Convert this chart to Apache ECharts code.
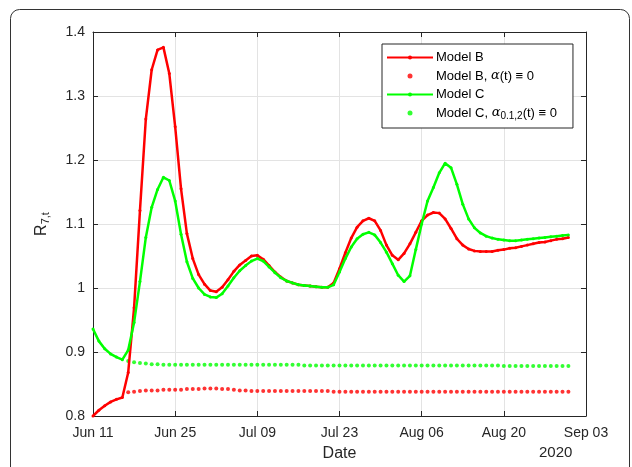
<!DOCTYPE html>
<html>
<head>
<meta charset="utf-8">
<script src="https://cdn.jsdelivr.net/npm/echarts@6/dist/echarts.min.js"></script>
<style>
html,body{margin:0;padding:0;background:#fff;}
#chart{width:632px;height:467px;}
</style>
</head>
<body>
<div id="chart"></div>
<script>
// Days counted from Jun 11, 2020 (index 0 = Jun 11)
const xTickLabels = ['Jun 11','Jun 25','Jul 09','Jul 23','Aug 06','Aug 20','Sep 03'];
const seriesNames = ['Model B', 'Model B, α(t) ≡ 0', 'Model C', 'Model C, α0.1,2(t) ≡ 0'];

const modelB = [0.800,0.809,0.816,0.822,0.826,0.829,0.868,0.969,1.121,1.264,
  1.341,1.372,1.376,1.335,1.252,1.155,1.085,1.046,1.021,1.006,
  0.996,0.994,1.001,1.013,1.026,1.036,1.043,1.050,1.051,1.045,
  1.035,1.025,1.017,1.011,1.008,1.005,1.004,1.003,1.002,1.001,
  1.001,1.008,1.030,1.055,1.078,1.095,1.105,1.109,1.105,1.090,
  1.067,1.051,1.044,1.054,1.069,1.087,1.105,1.114,1.118,1.117,
  1.108,1.093,1.077,1.067,1.061,1.058,1.057,1.057,1.057,1.059,
  1.060,1.062,1.063,1.065,1.067,1.069,1.071,1.072,1.074,1.076,
  1.077,1.079];

const modelC = [0.936,0.917,0.905,0.897,0.892,0.888,0.903,0.946,1.010,1.079,
  1.126,1.154,1.173,1.168,1.136,1.084,1.041,1.015,1.000,0.990,
  0.986,0.985,0.991,1.003,1.016,1.027,1.035,1.042,1.046,1.042,
  1.033,1.024,1.016,1.011,1.008,1.005,1.004,1.003,1.002,1.001,
  1.001,1.005,1.025,1.046,1.064,1.077,1.084,1.087,1.083,1.071,
  1.056,1.038,1.020,1.010,1.019,1.060,1.100,1.136,1.157,1.180,
  1.195,1.188,1.162,1.131,1.108,1.094,1.086,1.081,1.078,1.076,
  1.075,1.074,1.074,1.075,1.076,1.077,1.078,1.079,1.080,1.081,
  1.082,1.083];

// alpha == 0 variants start on day 6
const modelBAlpha0 = [null,null,null,null,null,null,0.837,0.838,0.839,0.840,
  0.840,0.840,0.841,0.841,0.841,0.841,0.842,0.842,0.842,0.843,
  0.843,0.843,0.842,0.842,0.841,0.840,0.840,0.839,0.839,0.839,
  0.839,0.839,0.839,0.839,0.839,0.839,0.839,0.839,0.839,0.839,
  0.839,0.838,0.838,0.838,0.838,0.838,0.838,0.838,0.838,0.838,
  0.838,0.838,0.838,0.838,0.838,0.838,0.838,0.838,0.838,0.838,
  0.838,0.838,0.838,0.838,0.838,0.838,0.838,0.838,0.838,0.838,
  0.838,0.838,0.838,0.838,0.838,0.838,0.838,0.838,0.838,0.838,
  0.838,0.838];

const modelCAlpha0 = [null,null,null,null,null,null,0.886,0.884,0.883,0.882,
  0.881,0.881,0.880,0.880,0.880,0.880,0.880,0.880,0.880,0.880,
  0.880,0.880,0.880,0.880,0.880,0.880,0.880,0.880,0.880,0.880,
  0.880,0.880,0.880,0.880,0.880,0.880,0.879,0.879,0.879,0.879,
  0.879,0.879,0.879,0.879,0.879,0.879,0.879,0.879,0.879,0.879,
  0.879,0.879,0.879,0.879,0.879,0.879,0.879,0.879,0.879,0.879,
  0.879,0.879,0.879,0.879,0.879,0.879,0.879,0.879,0.879,0.879,
  0.878,0.878,0.878,0.878,0.878,0.878,0.878,0.878,0.878,0.878,
  0.878,0.878];

const toPairs = arr => arr.map((v, i) => [i, v]).filter(p => p[1] !== null);

const FONT = '"Liberation Sans", Arial, Helvetica, sans-serif';
const AX = '#262626';
const GRID = '#e3e3e3';

const chart = echarts.init(document.getElementById('chart'), null, {renderer: 'canvas'});

const legendRich = {
  n: {fontSize: 13, fontFamily: FONT, color: '#000', lineHeight: 16},
  a: {fontSize: 13, fontFamily: '"DejaVu Serif", serif', fontStyle: 'italic', color: '#000', lineHeight: 16},
  s: {fontSize: 10, fontFamily: FONT, color: '#000', lineHeight: 9, verticalAlign: 'bottom'}
};

const option = {
  animation: false,
  backgroundColor: '#fff',
  graphic: [
    {type: 'rect', shape: {x: 10.5, y: 9.5, width: 619, height: 480, r: 9},
     style: {fill: 'none', stroke: '#333', lineWidth: 1}, silent: true, z: -1},
    {type: 'text', left: 539, top: 445.5,
     style: {text: '2020', fontSize: 15, fontFamily: FONT, fill: '#262626'}}
  ],
  grid: {left: 93, top: 32, right: 46, bottom: 46, containLabel: false},
  legend: {
    orient: 'vertical',
    left: 382, top: 44,
    padding: [7, 16, 7, 4],
    itemGap: 5.5,
    itemWidth: 46,
    itemHeight: 5,
    backgroundColor: '#fff',
    borderColor: AX,
    borderWidth: 1,
    borderRadius: 0,
    data: seriesNames,
    textStyle: {fontSize: 13, fontFamily: FONT, color: '#000', rich: legendRich, padding: [0, 0, 0, -2]},
    formatter: function (name) {
      if (name === seriesNames[1]) return '{n|Model B, }{a|α}{n|(t) ≡ 0}';
      if (name === seriesNames[3]) return '{n|Model C, }{a|α}{s|0.1,2}{n|(t) ≡ 0}';
      return '{n|' + name + '}';
    }
  },
  xAxis: [{
    type: 'value', min: 0, max: 84, interval: 14,
    name: 'Date', nameLocation: 'middle', nameGap: 30,
    nameTextStyle: {fontSize: 16, fontFamily: FONT, color: AX, verticalAlign: 'top', align: 'center'},
    axisLine: {show: true, onZero: false, lineStyle: {color: AX, width: 1}},
    axisTick: {show: true, inside: true, length: 5, lineStyle: {color: AX}},
    axisLabel: {fontSize: 14, fontFamily: FONT, color: AX, margin: 10,
      formatter: v => xTickLabels[Math.round(v / 14)]},
    splitLine: {show: true, lineStyle: {color: GRID, width: 1}}
  }, {
    type: 'value', min: 0, max: 84, interval: 14, position: 'top',
    axisLine: {show: true, onZero: false, lineStyle: {color: AX, width: 1}},
    axisTick: {show: true, inside: true, length: 5, lineStyle: {color: AX}},
    axisLabel: {show: false},
    splitLine: {show: false}
  }],
  yAxis: [{
    type: 'value', min: 0.8, max: 1.4, interval: 0.1,
    name: '{r|R}{s|7,t}', nameLocation: 'middle', nameGap: 42, nameRotate: 90,
    nameTextStyle: {
      rich: {
        r: {fontSize: 16, fontFamily: FONT, color: AX, lineHeight: 18},
        s: {fontSize: 11, fontFamily: FONT, color: AX, lineHeight: 10, verticalAlign: 'bottom'}
      }
    },
    axisLine: {show: true, onZero: false, lineStyle: {color: AX, width: 1}},
    axisTick: {show: true, inside: true, length: 5, lineStyle: {color: AX}},
    axisLabel: {fontSize: 14, fontFamily: FONT, color: AX, margin: 8},
    splitLine: {show: true, lineStyle: {color: GRID, width: 1}}
  }, {
    type: 'value', min: 0.8, max: 1.4, interval: 0.1, position: 'right',
    axisLine: {show: true, onZero: false, lineStyle: {color: AX, width: 1}},
    axisTick: {show: true, inside: true, length: 5, lineStyle: {color: AX}},
    axisLabel: {show: false},
    splitLine: {show: false}
  }],
  series: [
    {name: seriesNames[0], type: 'line', data: toPairs(modelB),
     symbol: 'circle', symbolSize: 3, showSymbol: true,
     lineStyle: {color: '#ff0000', width: 2.5}, itemStyle: {color: '#ff0000'}, z: 3},
    {name: seriesNames[1], type: 'scatter', data: toPairs(modelBAlpha0),
     symbol: 'circle', symbolSize: 4, itemStyle: {color: '#ff0000'}, z: 2},
    {name: seriesNames[2], type: 'line', data: toPairs(modelC),
     symbol: 'circle', symbolSize: 3, showSymbol: true,
     lineStyle: {color: '#00ff00', width: 2.5}, itemStyle: {color: '#00ff00'}, z: 4},
    {name: seriesNames[3], type: 'scatter', data: toPairs(modelCAlpha0),
     symbol: 'circle', symbolSize: 4, itemStyle: {color: '#00ff00'}, z: 2}
  ]
};
chart.setOption(option);
</script>
</body>
</html>
